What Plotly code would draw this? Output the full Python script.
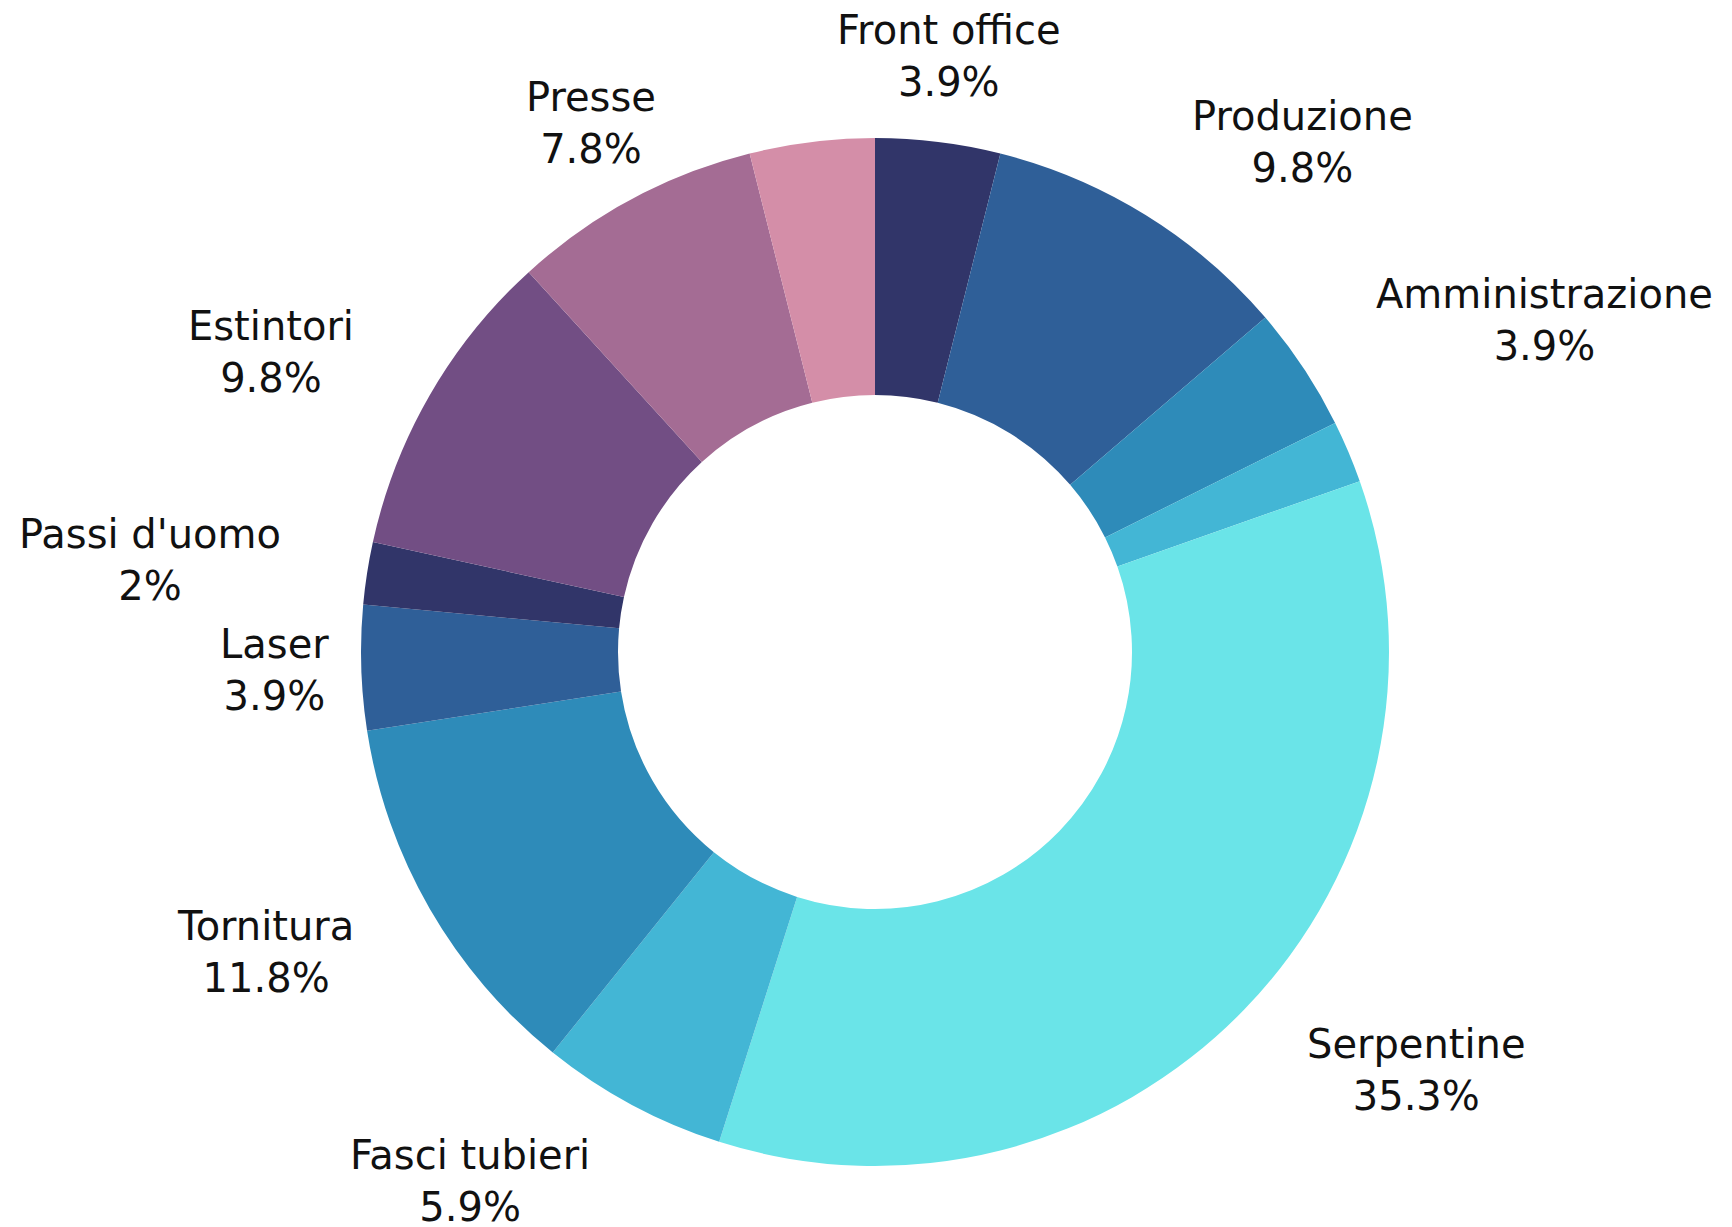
import math
import plotly.graph_objects as go

labels = ["Front office", "Produzione", "Amministrazione", "Altro A", "Serpentine",
          "Fasci tubieri", "Tornitura", "Laser", "Passi d'uomo", "Estintori",
          "Presse", "Altro B"]
values = [2, 5, 2, 1, 18, 3, 6, 2, 1, 5, 4, 2]
show_label = [True, True, True, False, True, True, True, True, True, True, True, False]
colors = ["#313569", "#2f5f98", "#2e8bb9", "#43b6d5", "#6ae4e8", "#43b6d5",
          "#2e8bb9", "#2f5f98", "#313569", "#724e84", "#a46c94", "#d48ea8"]
label_anchor = ["center", "left", "left", "left", "left", "right", "right",
                "center", "right", "right", "center", "center"]

W, H = 1732, 1227
L, R_, T, B = 2, 0, 130, 69
pw, ph = W - L - R_, H - T - B
cx, cy = L + pw / 2, T + ph / 2
radius = min(pw, ph) / 2
label_r = radius * 1.168
FS = 40

total = sum(values)

def fmt(v):
    s = f"{v / total * 100:.1f}"
    if s.endswith(".0"):
        s = s[:-2]
    return s + "%"

fig = go.Figure(go.Pie(
    labels=labels,
    values=values,
    textinfo="none",
    hole=0.5,
    sort=False,
    direction="clockwise",
    rotation=0,
    marker=dict(colors=colors, line=dict(width=0)),
    showlegend=False,
))

annotations = []
cum = 0
for lab, v, show, anc in zip(labels, values, show_label, label_anchor):
    mid = (cum + v / 2) / total * 2 * math.pi
    cum += v
    if not show:
        continue
    px = cx + math.sin(mid) * label_r
    py = cy - math.cos(mid) * label_r
    annotations.append(dict(
        x=(px - L) / pw, y=1 - (py - T) / ph,
        xref="paper", yref="paper",
        text=f"{lab}<br>{fmt(v)}",
        showarrow=False,
        xanchor=anc, yanchor="middle", align="center",
        borderpad=0,
        font=dict(family="DejaVu Sans", size=FS, color="#111111"),
    ))

fig.update_layout(
    width=W, height=H,
    margin=dict(l=L, r=R_, t=T, b=B),
    paper_bgcolor="white",
    plot_bgcolor="white",
    annotations=annotations,
)

fig.write_html("out.html")
